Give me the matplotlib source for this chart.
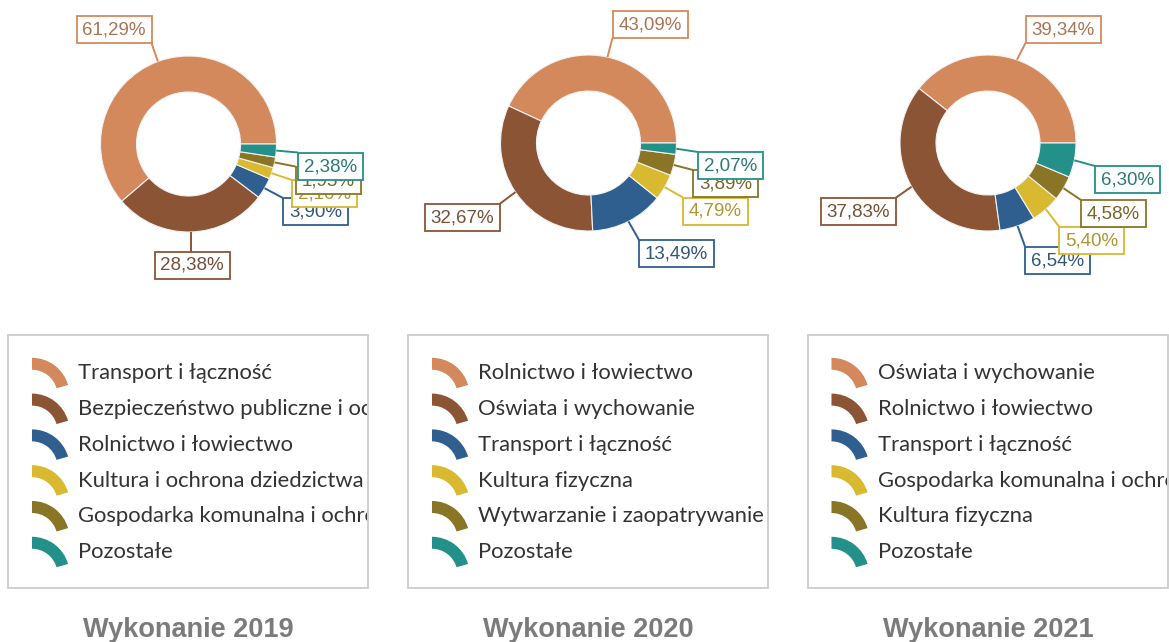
import numpy as np
import matplotlib.pyplot as plt
from matplotlib.patches import Rectangle, Wedge
from matplotlib.transforms import Bbox, TransformedBbox
from matplotlib.colors import to_rgb

W, H = 1169, 642

years = ['2019', '2020', '2021']

cats_2019 = ['Transport i łączność',
             'Bezpieczeństwo publiczne i ochrona przeciwpożarowa',
             'Rolnictwo i łowiectwo',
             'Kultura i ochrona dziedzictwa narodowego',
             'Gospodarka komunalna i ochrona środowiska',
             'Pozostałe']
cats_2020 = ['Rolnictwo i łowiectwo',
             'Oświata i wychowanie',
             'Transport i łączność',
             'Kultura fizyczna',
             'Wytwarzanie i zaopatrywanie',
             'Pozostałe']
cats_2021 = ['Oświata i wychowanie',
             'Rolnictwo i łowiectwo',
             'Transport i łączność',
             'Gospodarka komunalna i ochrona środowiska',
             'Kultura fizyczna',
             'Pozostałe']

vals_2019 = [61.29, 28.38, 3.90, 2.10, 1.95, 2.38]
vals_2020 = [43.09, 32.67, 13.49, 4.79, 3.89, 2.07]
vals_2021 = [39.34, 37.83, 6.54, 5.40, 4.58, 6.30]

colors = ['#d4895c', '#8b5535', '#2e5f8e', '#d8b930', '#8a7425', '#23908a']

# pixel layout (y grows downwards)
centers = [(188.5, 144), (588.5, 143), (988, 143)]
label_pos = [
    [(114, 29.5), (192, 265), (315.5, 211.5), (324.5, 193.5), (328, 180), (330.5, 166)],
    [(650, 24.5), (462, 217.5), (676.5, 253.5), (715.5, 211), (725.5, 183.5), (730.5, 165.5)],
    [(1063, 29.5), (858, 211.5), (1057.5, 260), (1091.5, 240), (1113.5, 213.5), (1127.5, 179.5)],
]
R_OUT, RING = 88, 36

fig = plt.figure(figsize=(W / 100, H / 100), dpi=100)
ax = fig.add_axes([0, 0, 1, 1])


def darker(c, k=0.28):
    r, g, b = to_rgb(c)
    return (r * (1 - k) + 0.25 * k, g * (1 - k) + 0.25 * k, b * (1 - k) + 0.25 * k)


panels = zip(years, [cats_2019, cats_2020, cats_2021],
             [vals_2019, vals_2020, vals_2021], centers, label_pos)
for year, cats, vals, (cx, cy), lpos in panels:
    # y axis is inverted, so clockwise in data is counter-clockwise on screen
    wedges, _ = ax.pie(vals, colors=colors, radius=R_OUT, center=(cx, cy),
                       startangle=0, counterclock=False,
                       wedgeprops=dict(width=RING, edgecolor='#f2f2f2', linewidth=0.8))

    for i, (w, v, (lx, ly)) in enumerate(zip(wedges, vals, lpos)):
        mid = np.deg2rad((w.theta1 + w.theta2) / 2)
        sx, sy = cx + R_OUT * np.cos(mid), cy + R_OUT * np.sin(mid)
        bw = 75 if v >= 10 else 65
        bh = 27
        x0, y0 = lx - bw / 2, ly - bh / 2
        ex = min(max(sx, x0), x0 + bw)
        ey = min(max(sy, y0), y0 + bh)
        ax.plot([sx, ex], [sy, ey], color=colors[i], lw=1.4, zorder=3,
                solid_capstyle='butt')
        ax.add_patch(Rectangle((x0, y0), bw, bh, facecolor='white',
                               edgecolor=colors[i], lw=1.3, zorder=4 + i))
        ax.text(lx, ly + 0.5, f'{v:.2f}'.replace('.', ',') + '%',
                ha='center', va='center', fontsize=13.5,
                family='Liberation Sans', color=darker(colors[i]), zorder=4 + i)

    # legend frame with arc-shaped keys; long names are cut at the frame
    fx0, fy0, fw, fh = cx - 180.5, 335, 360, 253
    ax.add_patch(Rectangle((fx0, fy0), fw, fh, facecolor='none',
                           edgecolor='#cccccc', lw=1.3, zorder=2))
    clip = TransformedBbox(Bbox.from_extents(fx0, fy0, fx0 + fw - 1, fy0 + fh),
                           ax.transData)
    for i, cat in enumerate(cats):
        base = 379.3 + 35.8 * i
        ax.add_patch(Wedge((fx0 + 24, base + 16), 37.5, 270, 344, width=12,
                           facecolor=colors[i], edgecolor='none', zorder=3))
        t = ax.text(fx0 + 70, base, cat, ha='left', va='baseline',
                    fontsize=15.8, family='Lato', color='#333333', zorder=3)
        t.set_clip_box(clip)
        t.set_clip_on(True)

    ax.text(cx, 637, f'Wykonanie {year}', ha='center', va='baseline',
            fontsize=19.5, fontweight='bold', family='Liberation Sans',
            color='#7b7b7b')

ax.set_xlim(0, W)
ax.set_ylim(H, 0)
ax.set_aspect('auto')
ax.axis('off')

fig.savefig('out.png', dpi=100, facecolor='white')
